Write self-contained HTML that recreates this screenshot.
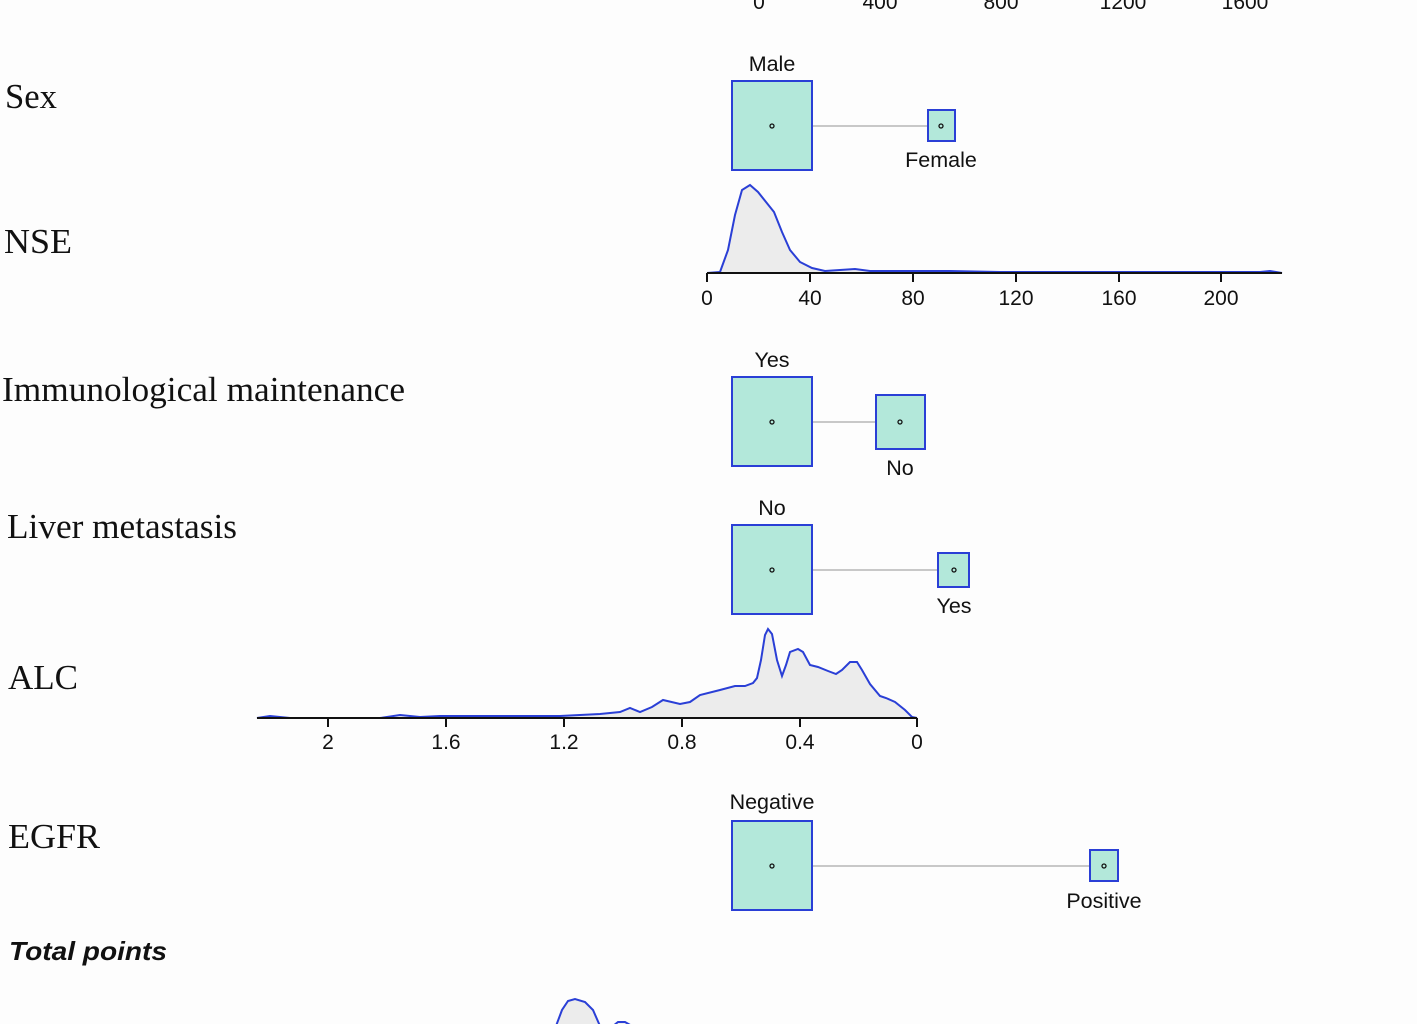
<!DOCTYPE html>
<html><head><style>body{margin:0;background:#fdfdfd}svg{display:block}</style></head><body>
<svg width="1417" height="1024" viewBox="0 0 1417 1024" xmlns="http://www.w3.org/2000/svg">
<rect width="1417" height="1024" fill="#fdfdfd"/>
<g font-family="Liberation Sans, sans-serif" font-size="21" fill="#111" text-anchor="middle">
<text x="759" y="9">0</text><text x="880" y="9">400</text><text x="1001" y="9">800</text><text x="1123" y="9">1200</text><text x="1245" y="9">1600</text>
</g>
<g font-family="Liberation Serif, serif" font-size="35" fill="#111" lengthAdjust="spacingAndGlyphs">
<text x="5" y="108" textLength="52" lengthAdjust="spacingAndGlyphs">Sex</text>
<text x="4" y="253" textLength="68" lengthAdjust="spacingAndGlyphs">NSE</text>
<text x="2" y="401" textLength="403" lengthAdjust="spacingAndGlyphs">Immunological maintenance</text>
<text x="7" y="538" textLength="230" lengthAdjust="spacingAndGlyphs">Liver metastasis</text>
<text x="8" y="689" textLength="70" lengthAdjust="spacingAndGlyphs">ALC</text>
<text x="8" y="848" textLength="92" lengthAdjust="spacingAndGlyphs">EGFR</text>
</g>
<text x="9" y="960" font-family="Liberation Sans, sans-serif" font-size="26" font-weight="bold" font-style="italic" fill="#111" textLength="158" lengthAdjust="spacingAndGlyphs">Total points</text>
<g stroke="#c8c8c8" stroke-width="2">
<line x1="812" y1="126" x2="928" y2="126"/>
<line x1="812" y1="422" x2="876" y2="422"/>
<line x1="812" y1="570" x2="938" y2="570"/>
<line x1="812" y1="866" x2="1090" y2="866"/>
</g>
<g fill="#b3e8da" stroke="#2a3fd6" stroke-width="2">
<rect x="732" y="81" width="80" height="89"/><rect x="928" y="110" width="27" height="31"/>
<rect x="732" y="377" width="80" height="89"/><rect x="876" y="395" width="49" height="54"/>
<rect x="732" y="525" width="80" height="89"/><rect x="938" y="553" width="31" height="34"/>
<rect x="732" y="821" width="80" height="89"/><rect x="1090" y="850" width="28" height="31"/>
</g>
<g fill="none" stroke="#111" stroke-width="1.3">
<circle cx="772" cy="126" r="2"/><circle cx="941" cy="126" r="2"/>
<circle cx="772" cy="422" r="2"/><circle cx="900" cy="422" r="2"/>
<circle cx="772" cy="570" r="2"/><circle cx="954" cy="570" r="2"/>
<circle cx="772" cy="866" r="2"/><circle cx="1104" cy="866" r="2"/>
</g>
<g font-family="Liberation Sans, sans-serif" font-size="21.5" fill="#111" text-anchor="middle">
<text x="772" y="71">Male</text><text x="941" y="167">Female</text>
<text x="772" y="367">Yes</text><text x="900" y="475">No</text>
<text x="772" y="515">No</text><text x="954" y="613">Yes</text>
<text x="772" y="809">Negative</text><text x="1104" y="908">Positive</text>
</g>
<path d="M707,273 L720,272 L728,250 L735,215 L742,190 L750,185 L758,192 L766,202 L774,212 L782,232 L790,250 L800,262 L812,268 L825,271 L840,270 L855,269 L870,271 L900,271 L950,271 L1000,272 L1100,272 L1200,272 L1260,272 L1270,271 L1282,273 Z" fill="#ececec" stroke="#2a3fd6" stroke-width="2"/>
<g stroke="#111" stroke-width="2"><line x1="707" y1="273" x2="1282" y2="273"/>
<line x1="707" y1="273" x2="707" y2="282"/><line x1="810" y1="273" x2="810" y2="282"/><line x1="913" y1="273" x2="913" y2="282"/><line x1="1016" y1="273" x2="1016" y2="282"/><line x1="1119" y1="273" x2="1119" y2="282"/><line x1="1221" y1="273" x2="1221" y2="282"/></g>
<g font-family="Liberation Sans, sans-serif" font-size="21" fill="#111" text-anchor="middle">
<text x="707" y="305">0</text><text x="810" y="305">40</text><text x="913" y="305">80</text><text x="1016" y="305">120</text><text x="1119" y="305">160</text><text x="1221" y="305">200</text>
</g>
<path d="M257,718 L270,716 L290,718 L380,718 L400,715 L420,717 L440,716 L480,716 L520,716 L560,716 L600,714 L620,712 L630,708 L640,712 L652,707 L663,700 L680,704 L690,702 L700,695 L720,690 L735,686 L745,686 L753,683 L757,678 L761,660 L765,635 L768,629 L772,634 L777,660 L782,676 L786,665 L790,652 L798,649 L803,652 L810,665 L818,667 L828,671 L836,674 L842,670 L850,662 L857,662 L862,670 L870,684 L880,696 L886,698 L895,702 L905,710 L912,717 L917,718 Z" fill="#ececec" stroke="#2a3fd6" stroke-width="2"/>
<g stroke="#111" stroke-width="2"><line x1="257" y1="718" x2="917" y2="718"/>
<line x1="328" y1="718" x2="328" y2="727"/><line x1="446" y1="718" x2="446" y2="727"/><line x1="564" y1="718" x2="564" y2="727"/><line x1="682" y1="718" x2="682" y2="727"/><line x1="800" y1="718" x2="800" y2="727"/><line x1="917" y1="718" x2="917" y2="727"/></g>
<g font-family="Liberation Sans, sans-serif" font-size="21" fill="#111" text-anchor="middle">
<text x="328" y="749">2</text><text x="446" y="749">1.6</text><text x="564" y="749">1.2</text><text x="682" y="749">0.8</text><text x="800" y="749">0.4</text><text x="917" y="749">0</text>
</g>
<path d="M556,1026 L562,1010 L568,1001 L575,999 L585,1002 L593,1010 L600,1026 Z" fill="#ececec" stroke="#2a3fd6" stroke-width="2"/>
<path d="M613,1026 L618,1022 L625,1022 L632,1026" fill="#ececec" stroke="#2a3fd6" stroke-width="2"/>
</svg>
</body></html>
